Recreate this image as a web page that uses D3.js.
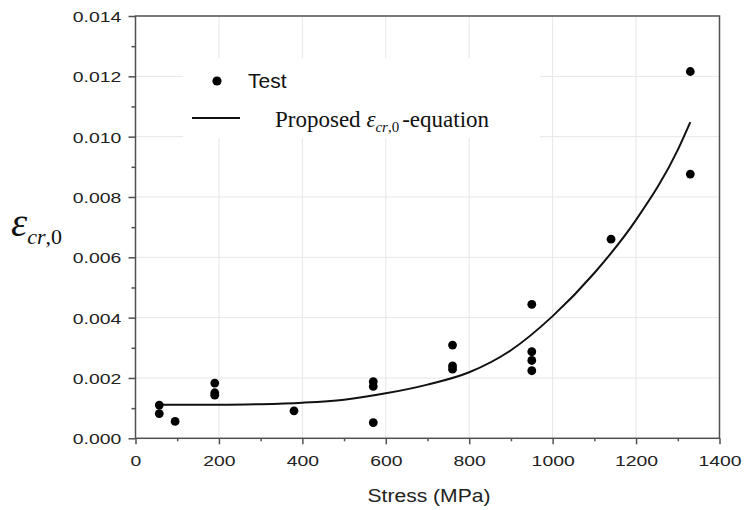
<!DOCTYPE html>
<html>
<head>
<meta charset="utf-8">
<script src="https://cdn.jsdelivr.net/npm/d3@7/dist/d3.min.js"></script>
<style>
    body { margin: 0; background: #fff; }
    .tick-label { font-family: 'Liberation Sans', Arial, sans-serif; font-size: 15.5px; fill: #222; }
    .serif { font-family: 'Liberation Serif', 'Times New Roman', serif; fill: #111; }
</style>
</head>
<body>
<svg id="chart"></svg>
<script>
// measured test points
const testStress = [57, 57, 95, 190, 190, 190, 380, 570, 570, 570, 760, 760, 760, 950, 950, 950, 950, 1140, 1330, 1330]
const testStrain = [0.00110, 0.00082, 0.00056, 0.00183, 0.00151, 0.00143, 0.00091, 0.00188, 0.00172, 0.00052,
    0.00309, 0.00240, 0.00229, 0.00444, 0.00287, 0.00258, 0.00224, 0.00660, 0.01216, 0.00876]

// proposed equation
const curveStress = [57, 100, 200, 300, 400, 500, 600, 700, 800, 900, 1000, 1100, 1200, 1300, 1330]
const curveStrain = [0.00112, 0.00111, 0.00111, 0.00113, 0.00118, 0.00128, 0.00149, 0.00178, 0.00219, 0.00292,
    0.00405, 0.00548, 0.00724, 0.00956, 0.01048]

const xTicks = [0, 200, 400, 600, 800, 1000, 1200, 1400]
const xMinorTicks = [100, 300, 500, 700, 900, 1100, 1300]
const yTicks = [0, 0.002, 0.004, 0.006, 0.008, 0.010, 0.012, 0.014]
const yMinorTicks = [0.001, 0.003, 0.005, 0.007, 0.009, 0.011, 0.013]

const width = 744
const height = 510
const plot = { left: 135.5, right: 719.5, top: 16, bottom: 438.3 }
const axisColor = '#505050'

const svg = d3.select('#chart')
    .attr('width', width)
    .attr('height', height)

const x = d3.scaleLinear().domain([0, 1400]).range([plot.left, plot.right])
const y = d3.scaleLinear().domain([0, 0.014]).range([plot.bottom, plot.top])

// grid
const grid = svg.append('g').attr('stroke', '#e6e6e6').attr('stroke-width', 1)
grid.selectAll('.gx').data(xTicks.slice(1, -1)).join('line')
    .attr('x1', d => x(d)).attr('x2', d => x(d))
    .attr('y1', plot.top).attr('y2', plot.bottom)
grid.selectAll('.gy').data(yTicks.slice(1, -1)).join('line')
    .attr('x1', plot.left).attr('x2', plot.right)
    .attr('y1', d => y(d)).attr('y2', d => y(d))

// legend background hides the grid
svg.append('rect')
    .attr('x', 183).attr('y', 58)
    .attr('width', 357).attr('height', 80)
    .attr('fill', '#fff')

// frame
svg.append('rect')
    .attr('x', plot.left).attr('y', plot.top)
    .attr('width', plot.right - plot.left).attr('height', plot.bottom - plot.top)
    .attr('fill', 'none')
    .attr('stroke', axisColor)
    .attr('stroke-width', 1.5)

// axes
const xAxisGroup = svg.append('g')
    .attr('transform', `translate(0,${plot.bottom})`)
    .call(d3.axisBottom(x).tickValues(xTicks).tickSize(6).tickFormat(d3.format('d')))
const xMinorGroup = svg.append('g')
    .attr('transform', `translate(0,${plot.bottom})`)
    .call(d3.axisBottom(x).tickValues(xMinorTicks).tickSize(3).tickFormat(''))

const yAxisGroup = svg.append('g')
    .attr('transform', `translate(${plot.left},0)`)
    .call(d3.axisLeft(y).tickValues(yTicks).tickSize(7).tickFormat(d3.format('.3f')))
const yMinorGroup = svg.append('g')
    .attr('transform', `translate(${plot.left},0)`)
    .call(d3.axisLeft(y).tickValues(yMinorTicks).tickSize(4).tickFormat(''))

for (const g of [xAxisGroup, xMinorGroup, yAxisGroup, yMinorGroup]) {
    g.select('.domain').remove()
    g.selectAll('.tick line').attr('stroke', axisColor).attr('stroke-width', 1.5)
}

xAxisGroup.selectAll('.tick text')
    .attr('class', 'tick-label')
    .attr('y', 0).attr('dy', 0)
    .attr('transform', 'translate(0,28) scale(1.25,1)')
yAxisGroup.selectAll('.tick text')
    .attr('class', 'tick-label')
    .attr('x', 0).attr('dy', '0.35em')
    .attr('transform', 'translate(-14.3,0) scale(1.25,1)')

// axis titles
svg.append('text')
    .attr('class', 'tick-label')
    .attr('text-anchor', 'middle')
    .attr('transform', 'translate(429,502) scale(1.14,1)')
    .style('font-size', '18.5px')
    .text('Stress (MPa)')

const yTitle = svg.append('text')
    .attr('class', 'serif')
    .attr('x', 11).attr('y', 236)
yTitle.append('tspan').style('font-style', 'italic').style('font-size', '41px').text('ε')
yTitle.append('tspan').attr('dy', 8).style('font-size', '22px')
    .html('<tspan style="font-style:italic">cr</tspan>,0')

// curve
const line = d3.line()
    .x(d => x(d[0]))
    .y(d => y(d[1]))
    .curve(d3.curveMonotoneX)

svg.append('path')
    .datum(d3.zip(curveStress, curveStrain))
    .attr('d', line)
    .attr('fill', 'none')
    .attr('stroke', '#111')
    .attr('stroke-width', 2)

// points
svg.append('g').selectAll('circle')
    .data(d3.zip(testStress, testStrain))
    .join('circle')
    .attr('cx', d => x(d[0]))
    .attr('cy', d => y(d[1]))
    .attr('r', 4.4)
    .attr('fill', '#000')

// legend
svg.append('circle').attr('cx', 217).attr('cy', 81).attr('r', 4.6).attr('fill', '#000')
svg.append('text')
    .attr('x', 248).attr('y', 88)
    .attr('class', 'tick-label')
    .style('font-size', '21px')
    .style('fill', '#111')
    .text('Test')

svg.append('line')
    .attr('x1', 192).attr('x2', 240)
    .attr('y1', 118).attr('y2', 118)
    .attr('stroke', '#111')
    .attr('stroke-width', 2.2)

const legendEq = svg.append('text')
    .attr('class', 'serif')
    .attr('x', 275).attr('y', 126.5)
    .style('font-size', '23px')
legendEq.append('tspan').text('Proposed ')
legendEq.append('tspan').style('font-style', 'italic').text('ε')
legendEq.append('tspan').attr('dy', 5).style('font-size', '15px')
    .html('<tspan style="font-style:italic">cr</tspan>,0')
legendEq.append('tspan').attr('dy', -5).attr('dx', 3).text('-equation')
</script>
</body>
</html>
